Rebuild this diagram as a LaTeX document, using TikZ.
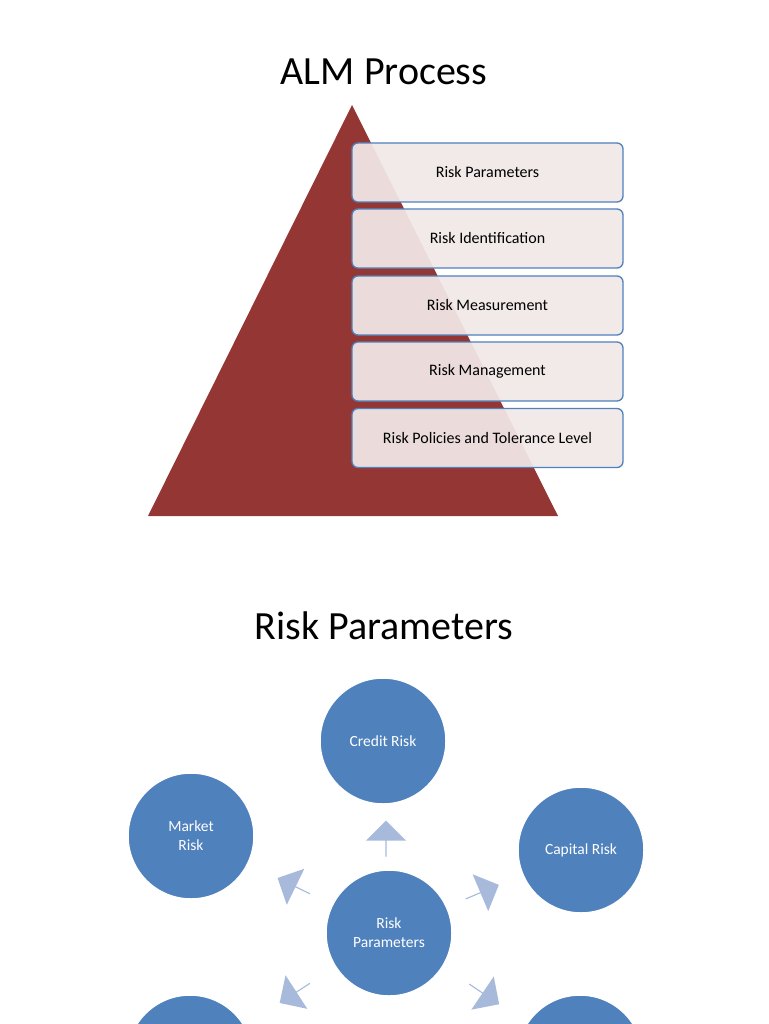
\documentclass[tikz,border=0pt]{standalone}
\usepackage{fontspec}
\setmainfont{Carlito}
\usetikzlibrary{shapes.arrows}
\definecolor{tri}{HTML}{943634}
\definecolor{bord}{HTML}{4F81BD}
\definecolor{boxf}{HTML}{F2E8E8}
\definecolor{circ}{HTML}{4F81BD}
\definecolor{arr}{HTML}{A7BADB}
\tikzset{
 stage/.style={draw=bord,line width=1.3pt,rounded corners=6pt,fill=boxf,fill opacity=0.93,text opacity=1,minimum width=271pt,minimum height=59pt,inner sep=0pt,font=\fontsize{16}{18}\selectfont},
 bub/.style={circle,fill=circ,draw=white,line width=1.5pt,minimum size=126pt,inner sep=0pt,text=white,align=center,font=\fontsize{15.5}{19}\selectfont},
 barr/.style={single arrow,fill=arr,draw=none,minimum height=36pt,minimum width=40pt,single arrow head extend=7pt,inner sep=0pt},
 ttl/.style={font=\fontsize{40}{44}\selectfont}
}
\begin{document}
\begin{tikzpicture}[x=1pt,y=-1pt]
\useasboundingbox (0,0) rectangle (768,1024);
\fill[white] (0,0) rectangle (768,1024);
\node[ttl] (t1) at (384,72) {ALM Process};
\fill[tri] (352,105) -- (558,516) -- (148,516) -- cycle;
\node[stage] (b1) at (487.5,172.5) {Risk Parameters};
\node[stage] (b2) at (487.5,238.5) {Risk Identification};
\node[stage] (b3) at (487.5,305.5) {Risk Measurement};
\node[stage] (b4) at (487.5,371.5) {Risk Management};
\node[stage] (b5) at (487.5,438) {Risk Policies and Tolerance Level};
\node[ttl] (t2) at (384,626) {Risk Parameters};
\begin{scope}
\clip (0,0) rectangle (768,1024);
\node[bub] (cr) at (383,741) {Credit Risk};
\node[bub] (mr) at (191,836) {Market\\Risk};
\node[bub] (cap) at (581,850) {Capital Risk};
\node[bub] (ctr) at (389,933) {Risk\\Parameters};
\node[bub] (bl) at (190,1058) {};
\node[bub] (br) at (580,1058) {};
\node[barr,rotate=90] (a1) at (386,839) {};
\node[barr,rotate=154] (a2) at (294,886) {};
\node[barr,rotate=23] (a3) at (482,892) {};
\node[barr,rotate=-147] (a4) at (295,993) {};
\node[barr,rotate=-34] (a5) at (484,994) {};
\end{scope}
\end{tikzpicture}
\end{document}
